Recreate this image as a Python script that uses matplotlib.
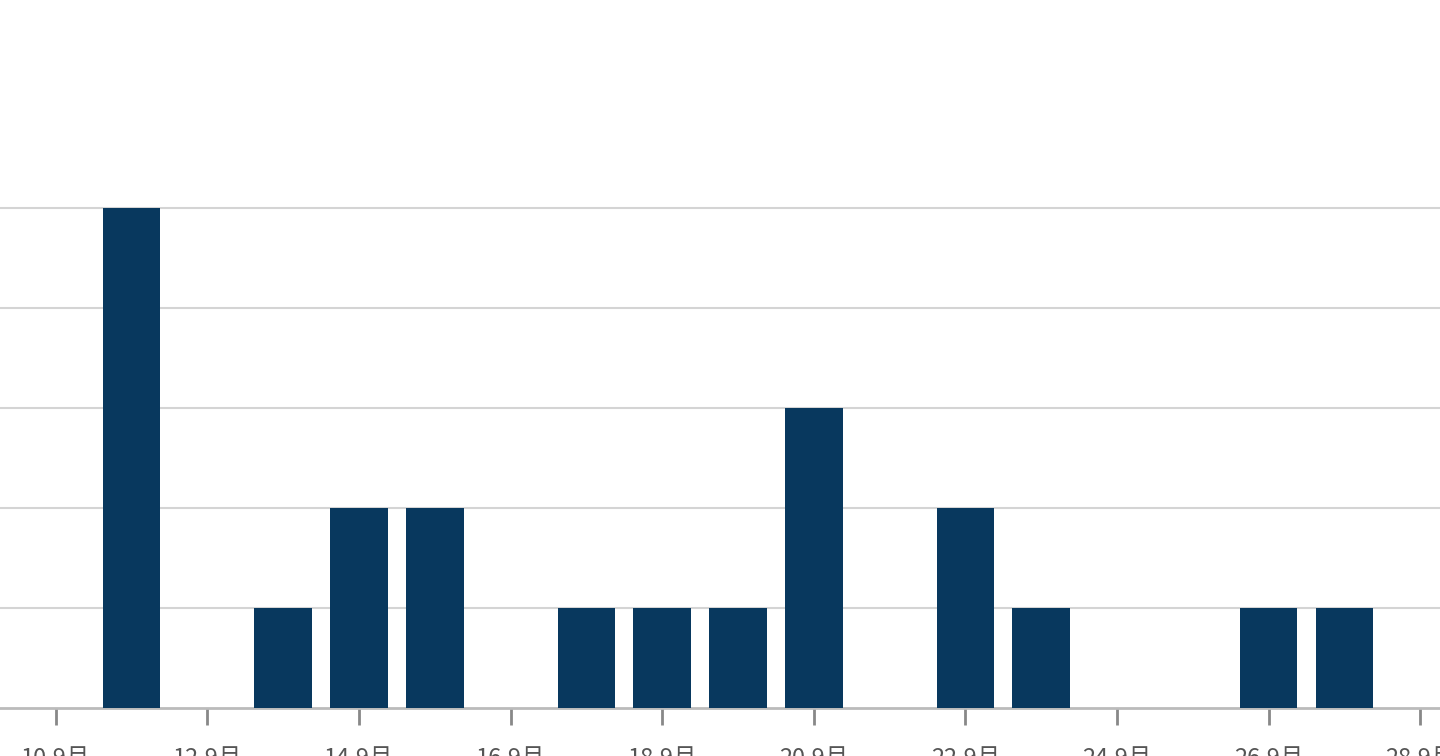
import matplotlib.pyplot as plt

plt.rcParams['font.family'] = ['Noto Sans CJK SC', 'DejaVu Sans']

days = [11, 13, 14, 15, 17, 18, 19, 20, 22, 23, 26, 27]
counts = [5, 1, 2, 2, 1, 1, 1, 3, 2, 1, 1, 1]
tick_days = list(range(10, 30, 2))
tick_labels = [f'{d}.9月' for d in tick_days]

fig = plt.figure(figsize=(14.4, 7.56), dpi=100)
# axes placed so that the labels are cut off at the bottom like the reference
ax = fig.add_axes([0, 48 / 756, 1, 1 - 48 / 756])

ax.bar(days, counts, width=0.76, color='#08385e', zorder=3)
ax.set_xlim(9.263, 28.26)
ax.set_ylim(0, 7.08)
ax.set_yticks(range(1, 6))
ax.yaxis.grid(True, color='#d4d4d4', linewidth=1.5, zorder=0)
ax.tick_params(axis='y', left=False, labelleft=False)
ax.set_xticks(tick_days)
ax.set_xticklabels(tick_labels, fontsize=17, color='#555555')
ax.tick_params(axis='x', length=12, width=2, color='#888888', pad=16)
for s in ['top', 'right', 'left']:
    ax.spines[s].set_visible(False)
ax.spines['bottom'].set_color('#bbbbbb')
ax.spines['bottom'].set_linewidth(2)

fig.savefig('out.png', dpi=100)
